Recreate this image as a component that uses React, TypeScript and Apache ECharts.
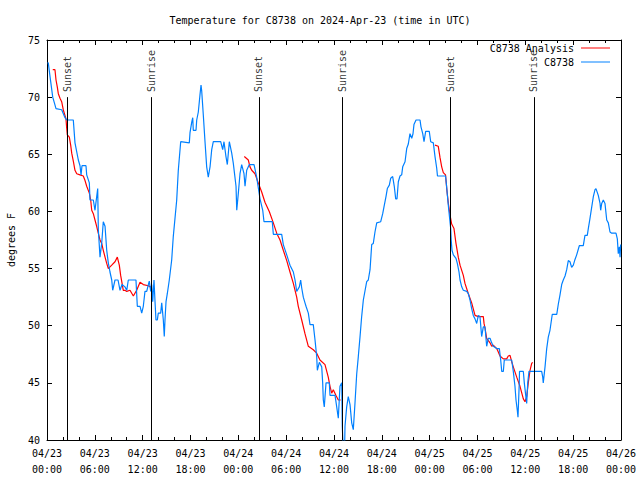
import React, { useEffect, useRef } from 'react';
import * as echarts from 'echarts';

const TITLE = 'Temperature for C8738 on 2024-Apr-23 (time in UTC)';
const Y_NAME = 'degrees F';
const DAY_LABELS = ['04/23', '04/24', '04/25', '04/26'];
const OBS_NAME = 'C8738';
const ANA_NAME = 'C8738 Analysis';

// Observations (hours since 04/23 00:00 UTC, deg F)
const obsHours = [
  0.06, 0.16, 0.38, 0.72, 1.13, 1.84, 2.26, 2.47, 3.3, 3.51, 3.93, 4.14, 4.27, 4.39, 4.89, 4.98,
  5.31, 5.39, 5.81, 6.02, 6.36, 6.44, 6.65, 6.86, 7.06, 7.28, 7.49, 7.69, 7.9, 8.12, 8.24, 8.53,
  8.91, 9.16, 9.41, 9.78, 10.0, 10.2, 11.16, 11.33, 11.67, 11.88, 12.08, 12.29, 12.51, 12.71, 12.83,
  13.01, 13.13, 13.26, 13.42, 13.55, 13.67, 13.84, 13.96, 14.26, 14.39, 14.59, 14.71, 14.8, 14.93,
  15.09, 15.34, 15.64, 15.84, 16.27, 16.47, 16.77, 17.85, 17.94, 18.15, 18.28, 18.35, 18.69, 18.78,
  18.98, 19.19, 19.32, 19.41, 19.61, 19.82, 20.03, 20.23, 20.45, 20.66, 20.86, 21.79, 22.04, 22.2,
  22.45, 22.62, 22.87, 23.17, 23.37, 23.71, 23.8, 24.0, 24.21, 24.42, 24.71, 24.84, 25.05, 25.38,
  25.97, 26.3, 26.72, 27.06, 27.22, 28.26, 28.39, 29.44, 29.64, 30.07, 30.48, 30.9, 31.11, 31.32,
  31.65, 31.82, 31.95, 32.15, 32.36, 32.49, 32.78, 32.99, 33.4, 33.62, 33.83, 33.91, 34.16, 34.46,
  34.58, 34.66, 34.78, 35.0, 35.41, 35.5, 36.13, 36.34, 36.54, 36.75, 36.97, 37.04, 37.17, 37.32,
  37.38, 37.59, 37.79, 38.01, 38.22, 38.42, 38.63, 38.85, 39.05, 39.26, 39.47, 39.68, 40.1, 40.3,
  40.52, 40.73, 40.93, 41.14, 41.36, 41.86, 42.11, 42.27, 42.52, 42.69, 42.94, 43.11, 43.36, 43.56,
  43.74, 43.9, 44.07, 44.28, 44.49, 44.62, 44.91, 45.12, 45.32, 45.53, 45.75, 45.91, 46.03, 46.29,
  46.79, 46.91, 47.13, 47.29, 47.5, 47.95, 48.13, 48.46, 48.67, 48.88, 48.98, 49.99, 50.11, 50.21,
  50.36, 50.49, 50.64, 50.7, 50.8, 50.97, 51.3, 51.47, 51.68, 51.81, 52.02, 52.22, 52.65, 52.85,
  53.06, 53.27, 53.47, 53.69, 53.9, 54.1, 54.31, 54.52, 54.73, 54.94, 55.15, 55.35, 55.57, 55.78,
  55.98, 56.41, 56.74, 56.91, 57.04, 57.24, 57.36, 58.29, 58.49, 58.7, 58.83, 58.99, 59.08, 59.24,
  59.27, 59.75, 59.87, 60.05, 60.17, 60.3, 60.46, 62.05, 62.18, 62.25, 62.47, 62.68, 62.88, 63.09,
  63.38, 63.94, 64.14, 64.35, 64.56, 64.76, 64.98, 65.19, 65.39, 65.6, 65.81, 66.02, 66.23, 66.44,
  66.77, 67.27, 67.48, 67.77, 67.9, 68.11, 68.33, 68.53, 68.74, 68.86, 69.15, 69.37, 69.45, 69.58,
  69.78, 69.99, 70.21, 70.41, 70.62, 70.83, 71.37, 71.54, 71.66, 71.79, 71.88, 71.96,
];
const obsTemps = [
  73, 73, 71.8, 70, 69, 68.9, 68.2, 68, 68, 66, 64.5, 64, 63.2, 64, 64, 63.2,
  62.5, 61, 61, 60.1, 62, 58.4, 56, 57.2, 59.1, 58.7, 56.6, 55.5, 54.7, 54, 53.1, 54,
  54, 53.1, 53.6, 53.4, 53.1, 54, 54, 51.7, 51.7, 51.1, 51.7, 53, 53, 53.6, 53.9,
  53, 53.6, 52.1, 54, 52.1, 50.5, 50.5, 51.1, 51.1, 52, 50.5, 49.05, 50.5, 52.1,
  52.8, 54, 55.75, 57.8, 61, 63.6, 66.1, 66, 66.9, 67.8, 68.2, 67.1, 67.1, 68,
  68.7, 70.2, 71.06, 70.5, 68.4, 66.1, 63.9, 63, 63.9, 65.4, 66.1, 66.1, 65.4, 66.1,
  64.8, 64.1, 66.1, 65.1, 64.2, 62.2, 60.1, 61.6, 63.3, 64.1, 63.3, 62.2, 63.6, 64.1,
  64.1, 63, 61.1, 60.1, 59.1, 59.1, 58, 58, 57.1, 56.2, 55.3, 54.7, 54, 53,
  53.4, 54, 53.3, 52.5, 52, 51.7, 51.1, 50.1, 50.1, 48.75, 47.3, 46.1, 46.8, 46.4,
  45, 43.5, 42.9, 45, 45, 43.9, 43.9, 42.9, 41.9, 44.7, 45, 41.2, 39, 39,
  41.2, 42.9, 43.8, 43.1, 41.5, 40.9, 43.2, 45.8, 47.3, 49, 50.8, 52.25, 53.85, 54,
  54.9, 57.1, 57.2, 58.2, 59, 59.1, 59.8, 60.4, 61.3, 62, 62.3, 62.9, 63.05, 62.2,
  61.1, 61.1, 62.6, 63.1, 63.2, 63.9, 64.35, 65.5, 65.9, 66.8, 66.4, 66.8, 67.6, 68,
  68, 67.4, 66.8, 66.1, 67, 67, 66.1, 66, 64.8, 63.8, 63.1, 63.1, 62.3, 61.5,
  60.4, 59.5, 58.5, 57.5, 56.6, 56.2, 55.9, 55.45, 54.7, 54, 53.4, 53.1, 53, 52.8,
  52.25, 51.5, 50.9, 50.6, 50.2, 50.9, 50.8, 49.05, 49.9, 49.9, 48.2, 48.9, 48.9, 48.5,
  48.2, 48, 48, 47, 46, 46, 47, 47, 46, 44.7, 43.5, 42.6, 42, 45,
  46, 46, 45, 43.9, 43.2, 45, 46, 46, 45.5, 45, 46.4, 48, 49, 49.6,
  51, 51, 51.9, 52.7, 53.6, 54, 54.35, 54.9, 55.7, 55.6, 55.1, 55.3, 55.8, 56.2,
  57, 57, 57.9, 57.9, 58.5, 59.4, 60.4, 61.3, 61.9, 62, 61.4, 60.7, 60.1, 60.7,
  61, 60.7, 59.25, 59, 58.2, 58.1, 58.1, 57.6, 56.3, 56.9, 56, 57.1,
];

// Analysis, three evening runs
const anaHours1 = [
  0.72, 1.0, 1.13, 1.29, 1.42, 1.63, 1.84, 2.04, 2.38, 2.47, 2.55, 2.8, 2.97, 3.1, 3.3, 3.51, 3.73,
  4.14, 4.55, 4.77, 4.98, 5.31, 5.48, 5.61, 5.81, 6.02, 6.23, 6.43, 6.65, 6.86, 7.06, 7.28, 7.49,
  7.69, 8.12, 8.53, 8.82, 9.07, 9.24, 9.57, 9.78, 10.0, 10.41, 10.83, 11.25, 11.67, 12.08, 12.71,
  12.92, 13.17,
];
const anaTemps1 = [
  72.4, 72.4, 71.5, 70.9, 70.3, 69.9, 69.6, 68.9, 68.1, 67.3, 66.7, 66.5, 65.8, 65.1, 64.4, 63.6, 63.3,
  63.2, 63.1, 62.7, 62.2, 61.6, 61, 60.1, 59.8, 59.25, 58.7, 58.1, 57.5, 57.2, 56.6, 56, 55.45,
  55, 55.3, 55.6, 56, 55.3, 54.4, 53.1, 53.1, 53, 53.1, 52.6, 53.1, 53.8, 53.6, 53.5,
  53.4, 53.4,
];
const anaHours2 = [
  24.75, 25.25, 25.46, 25.68, 26.09, 26.5, 26.93, 27.34, 27.88, 28.39, 28.81, 29.23, 29.64, 30.07,
  30.48, 30.9, 31.32, 31.52, 31.95, 32.36, 32.78, 33.4, 33.83, 34.24, 34.87, 35.28, 35.5, 35.71,
  35.91, 36.25, 36.54, 36.84,
];
const anaTemps2 = [
  64.8, 64.5, 63.9, 63.6, 63.3, 62.5, 61.7, 60.8, 60, 59, 58.1, 57.5, 56.6, 55.7,
  54.7, 53.7, 52.5, 51.7, 50.5, 49.3, 48.2, 47.9, 47.6, 47, 46.6, 45.5, 44.7, 44.1,
  44.4, 43.9, 43.5, 43.5,
];
const anaHours3 = [
  48.67, 49.08, 49.3, 49.51, 49.71, 49.99, 50.14, 50.34, 50.55, 50.76, 51.05, 51.3, 51.59, 51.81,
  52.22, 52.43, 52.85, 53.27, 53.69, 54.1, 54.73, 54.82, 54.94, 55.15, 55.57, 55.78, 55.98, 56.41,
  56.61, 56.82, 57.24, 57.66, 57.86, 58.08, 58.29, 58.49, 58.92, 59.33, 59.75, 59.96, 60.17, 60.37,
  60.59, 60.8, 60.92,
];
const anaTemps3 = [
  65.8, 65.7, 64.7, 63.9, 63.4, 63.2, 62, 60.7, 59.7, 58.9, 58.5, 57.2, 56, 55.3,
  54.4, 53.7, 52.8, 52, 50.9, 50.8, 50.8, 50.2, 49.8, 48.9, 48.5, 48.2, 48.3, 48,
  47.7, 47.35, 47.1, 47.1, 47.35, 47.4, 46.85, 46.4, 45.5, 44.7, 43.6, 43.35, 43.8, 45,
  46.1, 46.7, 46.8,
];

// Sun events (hours since 04/23 00:00 UTC)
const sunHours = [2.55, 13.05, 26.57, 37.07, 50.6, 61.07];
const sunLabels = ['Sunset', 'Sunrise', 'Sunset', 'Sunrise', 'Sunset', 'Sunrise'];

const FONT = 'DejaVu Sans Mono';
const RED = '#ff0000';
const BLUE = '#0080ff';

const zip = (xs: number[], ys: number[]) => xs.map((x, i) => [x, ys[i]]);

const fmtX = (v: number) => {
  const d = Math.floor(v / 24 + 1e-9);
  const hh = Math.round(v - d * 24);
  return `${DAY_LABELS[d]}\n${String(hh).padStart(2, '0')}:00`;
};

export default function App() {
  const ref = useRef<HTMLDivElement>(null);
  useEffect(() => {
    if (!ref.current) return;
    const chart = echarts.init(ref.current, null, { renderer: 'svg' });
    const txt = { fontFamily: FONT, fontSize: 10, color: '#000' };
    const tickStyle = { color: '#000', width: 1 };
    const xBase = {
      type: 'value' as const,
      min: 0,
      max: 72,
      interval: 6,
      axisLine: { show: true, onZero: false, lineStyle: tickStyle },
      axisTick: { show: true, inside: true, length: 5, lineStyle: tickStyle },
      minorTick: { show: true, splitNumber: 3, length: 3, lineStyle: tickStyle },
      splitLine: { show: false },
      minorSplitLine: { show: false },
    };
    const yBase = {
      type: 'value' as const,
      min: 40,
      max: 75,
      interval: 5,
      axisLine: { show: true, onZero: false, lineStyle: tickStyle },
      axisTick: { show: true, inside: true, length: 5, lineStyle: tickStyle },
      splitLine: { show: false },
    };
    const anaSeries = [
      zip(anaHours1, anaTemps1),
      zip(anaHours2, anaTemps2),
      zip(anaHours3, anaTemps3),
    ].map((d) => ({
      name: ANA_NAME,
      type: 'line',
      data: d,
      symbol: 'none',
      showSymbol: false,
      lineStyle: { color: RED, width: 1.2 },
      itemStyle: { color: RED },
      z: 3,
    }));
    const legendBase = {
      orient: 'vertical',
      align: 'right',
      right: 30,
      itemWidth: 29,
      itemHeight: 1,
      icon: 'rect',
      selectedMode: false,
      padding: 0,
      textStyle: { ...txt, padding: [0, 2, 0, 0] },
    };
    chart.setOption({
      animation: false,
      backgroundColor: '#fff',
      title: {
        text: TITLE,
        left: 'center',
        top: 10,
        textStyle: { ...txt, fontWeight: 'normal' },
      },
      legend: [
        { ...legendBase, top: 43, data: [ANA_NAME] },
        { ...legendBase, top: 57, data: [OBS_NAME] },
      ],
      grid: {
        left: 47,
        right: 19,
        top: 40,
        bottom: 40,
        containLabel: false,
        outerBoundsMode: 'none',
      },
      xAxis: [
        {
          ...xBase,
          position: 'bottom',
          axisLabel: { ...txt, lineHeight: 16, margin: 5, formatter: fmtX },
        },
        { ...xBase, position: 'top', axisLabel: { show: false } },
      ],
      yAxis: [
        {
          ...yBase,
          position: 'left',
          name: Y_NAME,
          nameLocation: 'middle',
          nameRotate: 90,
          nameGap: 31,
          nameTextStyle: txt,
          axisLabel: { ...txt, margin: 7 },
        },
        { ...yBase, position: 'right', axisLabel: { show: false } },
      ],
      series: [
        ...anaSeries,
        {
          name: OBS_NAME,
          type: 'line',
          data: zip(obsHours, obsTemps),
          symbol: 'none',
          showSymbol: false,
          lineStyle: { color: BLUE, width: 1.2 },
          itemStyle: { color: BLUE },
          z: 4,
        },
        {
          name: 'sun',
          type: 'scatter',
          symbolSize: 0,
          silent: true,
          data: sunHours.map((h, i) => ({ value: [h, 70.45], name: sunLabels[i] })),
          label: {
            show: true,
            formatter: '{b}',
            position: 'inside',
            rotate: 90,
            align: 'left',
            verticalAlign: 'middle',
            ...txt,
          },
          markLine: {
            silent: true,
            symbol: ['none', 'none'],
            label: { show: false },
            lineStyle: { color: '#000', width: 1, type: 'solid' },
            data: sunHours.map((h) => [{ coord: [h, 40] }, { coord: [h, 70] }]),
          },
          z: 5,
        },
      ],
    });
    return () => chart.dispose();
  }, []);
  return (
    <div
      ref={ref}
      style={{ position: 'fixed', left: 0, top: 0, width: 640, height: 480, background: '#fff' }}
    />
  );
}
